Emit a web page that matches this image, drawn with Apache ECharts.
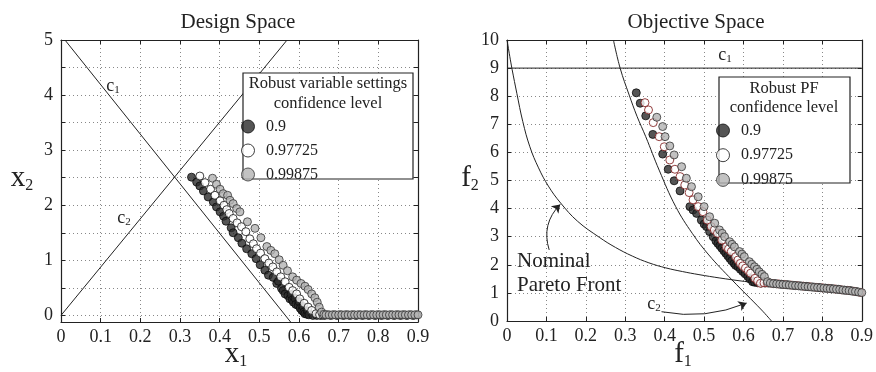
<!DOCTYPE html>
<html><head><meta charset="utf-8">
<script src="https://cdn.jsdelivr.net/npm/echarts@6/dist/echarts.min.js"></script>
<style>html,body{margin:0;padding:0;background:#fff}#c{width:876px;height:372px}</style>
</head><body><div id="c"></div>
<script>
// ---------- data ----------
const levels = ['0.9', '0.97725', '0.99875'];
const leftYTicks = [0, 0.5, 1, 1.5, 2, 2.5, 3, 3.5, 4, 4.5, 5];
const leftYLabels = [0, 1, 2, 3, 4, 5];

// Design space (x1, x2)
const c1Design = [[0.01, 5], [0.58, -0.13]];
const c2Design = [[0, 0], [0.57, 5]];
const darkDesign = [[0.329,2.51],[0.342,2.42],[0.350,2.35],[0.359,2.26],[0.371,2.15],[0.384,2.06],[0.392,1.97],[0.401,1.88],[0.410,1.80],[0.416,1.71],[0.429,1.59],[0.434,1.50],[0.447,1.41],[0.456,1.31],[0.468,1.21],[0.481,1.12],[0.492,1.03],[0.502,0.92],[0.514,0.82],[0.523,0.73],[0.535,0.69],[0.544,0.58],[0.548,0.62],[0.556,0.49],[0.560,0.45],[0.565,0.39],[0.572,0.36],[0.577,0.30],[0.580,0.38],[0.583,0.28],[0.586,0.24],[0.590,0.31],[0.592,0.20],[0.598,0.18],[0.600,0.25],[0.603,0.13],[0.607,0.09],[0.610,0.16],[0.612,0.06],[0.615,0.03],[0.620,0.02],[0.622,0.08]];
const darkFlatDesign = [[0.625,0.01],[0.635,0.0],[0.645,0.0],[0.655,0.0],[0.664,0.0],[0.680,0.0],[0.696,0.0],[0.712,0.0],[0.728,0.0],[0.744,0.0],[0.760,0.0],[0.776,0.0],[0.792,0.0],[0.808,0.0],[0.824,0.0],[0.840,0.0],[0.856,0.0],[0.872,0.0],[0.888,0.0]];
const whiteDesign = [[0.350,2.53],[0.363,2.41],[0.377,2.29],[0.388,2.18],[0.401,2.08],[0.411,2.00],[0.418,1.92],[0.424,1.85],[0.434,1.76],[0.444,1.68],[0.455,1.61],[0.466,1.52],[0.476,1.39],[0.485,1.30],[0.493,1.21],[0.503,1.13],[0.514,1.03],[0.524,0.95],[0.534,0.88],[0.544,0.79],[0.554,0.70],[0.565,0.61],[0.575,0.51],[0.584,0.45],[0.594,0.39],[0.602,0.30],[0.613,0.22],[0.623,0.15],[0.632,0.09],[0.643,0.03],[0.652,0.01]];
const whiteFlatDesign = [[0.660,0.01],[0.672,0.01],[0.688,0.01],[0.704,0.01],[0.720,0.01],[0.736,0.01],[0.752,0.01],[0.768,0.01],[0.784,0.01],[0.800,0.01],[0.816,0.01],[0.832,0.01],[0.848,0.01],[0.864,0.01],[0.880,0.01],[0.896,0.01]];
const grayDesign = [[0.382,2.49],[0.392,2.38],[0.401,2.29],[0.409,2.21],[0.420,2.18],[0.426,2.09],[0.434,2.03],[0.443,1.94],[0.451,1.88],[0.470,1.70],[0.489,1.58],[0.504,1.41],[0.519,1.25],[0.529,1.18],[0.539,1.12],[0.550,1.01],[0.560,0.91],[0.571,0.81],[0.584,0.70],[0.594,0.64],[0.605,0.58],[0.615,0.53],[0.623,0.47],[0.632,0.39],[0.640,0.32],[0.646,0.24],[0.651,0.15],[0.657,0.06],[0.663,0.02]];
const grayFlatDesign = [[0.668,0.01],[0.676,0.01],[0.684,0.01],[0.692,0.01],[0.700,0.01],[0.708,0.01],[0.716,0.01],[0.724,0.01],[0.732,0.01],[0.740,0.01],[0.748,0.01],[0.756,0.01],[0.764,0.01],[0.772,0.01],[0.780,0.01],[0.788,0.01],[0.796,0.01],[0.804,0.01],[0.812,0.01],[0.820,0.01],[0.828,0.01],[0.836,0.01],[0.844,0.01],[0.852,0.01],[0.860,0.01],[0.868,0.01],[0.876,0.01],[0.884,0.01],[0.892,0.01],[0.900,0.01]];

// Objective space (f1, f2)
const c1Objective = [[0, 9], [0.9, 9]];
const c2Objective = [[0.270,10],[0.287,9],[0.310,8.04],[0.330,7.28],[0.352,6.56],[0.386,5.37],[0.428,4.07],[0.470,3.12],[0.512,2.35],[0.571,1.46],[0.646,0.39],[0.671,0]];
const nominalPF = [[0,10],[0.007,9.42],[0.013,8.95],[0.025,8.1],[0.040,7.1],[0.058,6.2],[0.080,5.45],[0.105,4.8],[0.136,4.2],[0.179,3.55],[0.234,2.98],[0.275,2.62],[0.318,2.31],[0.360,2.07],[0.403,1.89],[0.445,1.76],[0.487,1.65],[0.540,1.53],[0.596,1.42],[0.640,1.35]];
const darkObjective = [[0.328,8.12],[0.338,7.75],[0.352,7.30],[0.370,6.64],[0.395,5.94],[0.409,5.40],[0.424,4.99],[0.439,4.63],[0.464,4.07],[0.472,3.95],[0.481,3.83],[0.493,3.59],[0.500,3.45],[0.506,3.36],[0.514,3.18],[0.523,3.00],[0.530,2.85],[0.535,2.76],[0.540,2.68],[0.545,2.59],[0.550,2.50],[0.555,2.41],[0.560,2.32],[0.565,2.23],[0.570,2.14],[0.576,2.05],[0.580,1.98],[0.586,1.93],[0.592,1.84],[0.598,1.76],[0.604,1.68],[0.611,1.58],[0.616,1.50],[0.623,1.40],[0.628,1.38],[0.636,1.36],[0.645,1.35],[0.655,1.35]];
const darkTailObjective = [[0.664,1.35],[0.680,1.33],[0.696,1.31],[0.712,1.29],[0.728,1.27],[0.744,1.25],[0.760,1.23],[0.776,1.21],[0.792,1.19],[0.808,1.17],[0.824,1.15],[0.840,1.13],[0.856,1.10],[0.872,1.08],[0.888,1.04]];
const whiteObjective = [[0.350,7.77],[0.359,7.51],[0.371,7.06],[0.386,6.56],[0.399,6.20],[0.413,5.73],[0.426,5.40],[0.439,5.14],[0.451,4.84],[0.462,4.57],[0.472,4.31],[0.485,4.07],[0.497,3.89],[0.508,3.59],[0.518,3.36],[0.526,3.24],[0.534,3.12],[0.545,2.88],[0.556,2.64],[0.562,2.56],[0.569,2.47],[0.580,2.29],[0.586,2.17],[0.592,2.05],[0.598,1.96],[0.605,1.88],[0.612,1.79],[0.618,1.70],[0.629,1.52],[0.636,1.43],[0.643,1.34],[0.652,1.36]];
const whiteTailObjective = [[0.660,1.36],[0.672,1.34],[0.688,1.32],[0.704,1.30],[0.720,1.28],[0.736,1.26],[0.752,1.24],[0.768,1.22],[0.784,1.20],[0.800,1.18],[0.816,1.16],[0.832,1.14],[0.848,1.11],[0.864,1.09],[0.880,1.06],[0.896,1.02]];
const grayObjective = [[0.380,7.25],[0.395,6.92],[0.401,6.56],[0.413,6.23],[0.424,5.91],[0.443,5.49],[0.455,5.08],[0.468,4.78],[0.485,4.42],[0.500,4.07],[0.514,3.71],[0.527,3.48],[0.539,3.24],[0.546,3.12],[0.552,3.00],[0.565,2.82],[0.571,2.73],[0.577,2.64],[0.590,2.47],[0.596,2.38],[0.602,2.29],[0.615,2.11],[0.621,2.02],[0.628,1.93],[0.634,1.84],[0.640,1.75],[0.647,1.66],[0.653,1.58],[0.661,1.40]];
const grayTailObjective = [[0.668,1.35],[0.676,1.33],[0.684,1.32],[0.692,1.31],[0.700,1.30],[0.708,1.29],[0.716,1.28],[0.724,1.27],[0.732,1.26],[0.740,1.25],[0.748,1.24],[0.756,1.23],[0.764,1.22],[0.772,1.21],[0.780,1.20],[0.788,1.19],[0.796,1.18],[0.804,1.17],[0.812,1.16],[0.820,1.15],[0.828,1.14],[0.836,1.13],[0.844,1.12],[0.852,1.10],[0.860,1.09],[0.868,1.08],[0.876,1.06],[0.884,1.05],[0.892,1.03],[0.900,1.01]];

// ---------- styles ----------
const FONT = 'Liberation Serif';
const INK = '#222';
const darkStyle = {color: '#2a2a2a', borderColor: '#0d0d0d', borderWidth: 1};
const whiteStyleL = {color: '#ffffff', borderColor: '#111', borderWidth: 1};
const whiteStyleR = {color: '#ffffff', borderColor: '#7a1414', borderWidth: 1};
const grayStyle = {color: '#b3b3b3', borderColor: '#333', borderWidth: 1};
const gridLine = {type: [1, 3], color: '#888', width: 1};

function xAx(grid, pos, opts) {
  return Object.assign({
    gridIndex: grid, type: 'value', position: pos, min: 0, max: 0.9, interval: 0.1,
    axisLine: {show: true, onZero: false, lineStyle: {color: INK, width: 1.2}},
    axisTick: {show: true, inside: true, length: 4, lineStyle: {color: INK}},
    axisLabel: pos === 'bottom' ? {show: true, fontFamily: FONT, fontSize: 18, color: INK, margin: 6} : {show: false},
    splitLine: {show: pos === 'bottom', lineStyle: gridLine}
  }, opts || {});
}
function yAx(grid, pos, opts) {
  return Object.assign({
    gridIndex: grid, type: 'value', position: pos,
    axisLine: {show: true, onZero: false, lineStyle: {color: INK, width: 1.2}},
    axisTick: {show: true, inside: true, length: 4, lineStyle: {color: INK}},
    axisLabel: pos === 'left' ? {show: true, fontFamily: FONT, fontSize: 18, color: INK, margin: 8} : {show: false},
    splitLine: {show: pos === 'left', lineStyle: gridLine}
  }, opts || {});
}
function leftY(pos) {
  const a = yAx(0, pos, {min: -0.12, max: 5});
  a.axisTick.customValues = leftYTicks;
  if (pos === 'left') a.axisLabel.customValues = leftYLabels;
  return a;
}
function lineS(xi, data, smooth) {
  return {type: 'line', xAxisIndex: xi, yAxisIndex: xi, data: data, showSymbol: false, symbol: 'none',
    smooth: smooth || false, silent: true, lineStyle: {color: INK, width: 1}, z: 3};
}
function scat(xi, name, data, style) {
  return {type: 'scatter', name: name, xAxisIndex: xi, yAxisIndex: xi, data: data, symbol: 'circle',
    symbolSize: 8, itemStyle: style, silent: true, z: 4};
}
function sub(main, s, big, small, pad) {
  return {text: '{m|' + main + '}{s|' + s + '}',
    rich: {m: {fontFamily: FONT, fontSize: big, fill: INK}, s: {fontFamily: FONT, fontSize: small, fill: INK, padding: [pad, 0, 0, 0]}}};
}
function gtext(x, y, st, align) {
  return {type: 'text', x: x, y: y, z: 20, style: Object.assign({align: align || 'center', verticalAlign: 'middle', fill: INK, fontFamily: FONT}, st)};
}
function legendCfg(left, top, gap) {
  return {
    orient: 'vertical', left: left, top: top, itemWidth: 26, itemHeight: 13, itemGap: gap, icon: 'circle',
    selectedMode: false, z: 30, padding: 0,
    textStyle: {fontFamily: FONT, fontSize: 16, color: INK},
    data: [{name: levels[0], itemStyle: darkStyle}, {name: levels[1], itemStyle: whiteStyleL}, {name: levels[2], itemStyle: grayStyle}]
  };
}

const chart = echarts.init(document.getElementById('c'));
chart.setOption({
  animation: false,
  backgroundColor: '#fff',
  grid: [
    {left: 61, top: 40, width: 357, height: 282},
    {left: 507, top: 40, width: 357, height: 281}
  ],
  xAxis: [xAx(0, 'bottom'), xAx(1, 'bottom'), xAx(0, 'top'), xAx(1, 'top')],
  yAxis: [leftY('left'), yAx(1, 'left', {min: 0, max: 10, interval: 1}), leftY('right'), yAx(1, 'right', {min: 0, max: 10, interval: 1})],
  legend: [legendCfg(241, 118.5, 8), legendCfg(716, 122.5, 8.7)],
  series: [
    lineS(0, c1Design), lineS(0, c2Design),
    scat(0, levels[0], darkDesign.concat(darkFlatDesign), darkStyle),
    scat(0, levels[1], whiteDesign.concat(whiteFlatDesign), whiteStyleL),
    scat(0, levels[2], grayDesign.concat(grayFlatDesign), grayStyle),
    lineS(1, c1Objective), lineS(1, c2Objective, 0.4), lineS(1, nominalPF, 0.4),
    scat(1, levels[0], darkObjective.concat(darkTailObjective), darkStyle),
    scat(1, levels[1], whiteObjective.concat(whiteTailObjective), whiteStyleR),
    scat(1, levels[2], grayObjective.concat(grayTailObjective), grayStyle),
    {type: 'lines', coordinateSystem: 'cartesian2d', xAxisIndex: 1, yAxisIndex: 1, silent: true, z: 5,
      symbol: ['none', 'arrow'], symbolSize: 8,
      lineStyle: {color: INK, width: 1, curveness: 0.3, opacity: 1},
      data: [{coords: [[0.107, 2.53], [0.135, 4.15]]}]},
    {type: 'lines', coordinateSystem: 'cartesian2d', xAxisIndex: 1, yAxisIndex: 1, silent: true, z: 5,
      symbol: ['none', 'arrow'], symbolSize: 8,
      lineStyle: {color: INK, width: 1, curveness: -0.15, opacity: 1},
      data: [{coords: [[0.392, 0.33], [0.608, 0.64]]}]}
  ],
  graphic: [
    {type: 'rect', z: 15, shape: {x: 243, y: 73, width: 170, height: 106}, style: {fill: '#fff', stroke: INK, lineWidth: 1.2}},
    {type: 'rect', z: 15, shape: {x: 719, y: 77, width: 131, height: 106}, style: {fill: '#fff', stroke: INK, lineWidth: 1.2}},
    gtext(328, 84, {text: 'Robust variable settings', fontSize: 16.5}),
    gtext(328, 104, {text: 'confidence level', fontSize: 16.5}),
    gtext(784, 89, {text: 'Robust PF', fontSize: 16.5}),
    gtext(784, 108, {text: 'confidence level', fontSize: 16.5}),
    gtext(238, 22, {text: 'Design Space', fontSize: 21}),
    gtext(696, 22, {text: 'Objective Space', fontSize: 21}),
    gtext(236, 354, sub('x', '1', 29, 16, 16)),
    gtext(22, 178, sub('x', '2', 29, 16, 16)),
    gtext(683, 354, sub('f', '1', 29, 16, 16)),
    gtext(470, 178, sub('f', '2', 29, 16, 16)),
    gtext(113, 86, sub('c', '1', 18, 11, 9)),
    gtext(124, 218, sub('c', '2', 18, 11, 9)),
    gtext(725, 55, sub('c', '1', 18, 11, 9)),
    gtext(654, 304, sub('c', '2', 18, 11, 9)),
    gtext(517, 261, {text: 'Nominal', fontSize: 21}, 'left'),
    gtext(517, 285, {text: 'Pareto Front', fontSize: 21}, 'left')
  ]
});
</script>
</body></html>
